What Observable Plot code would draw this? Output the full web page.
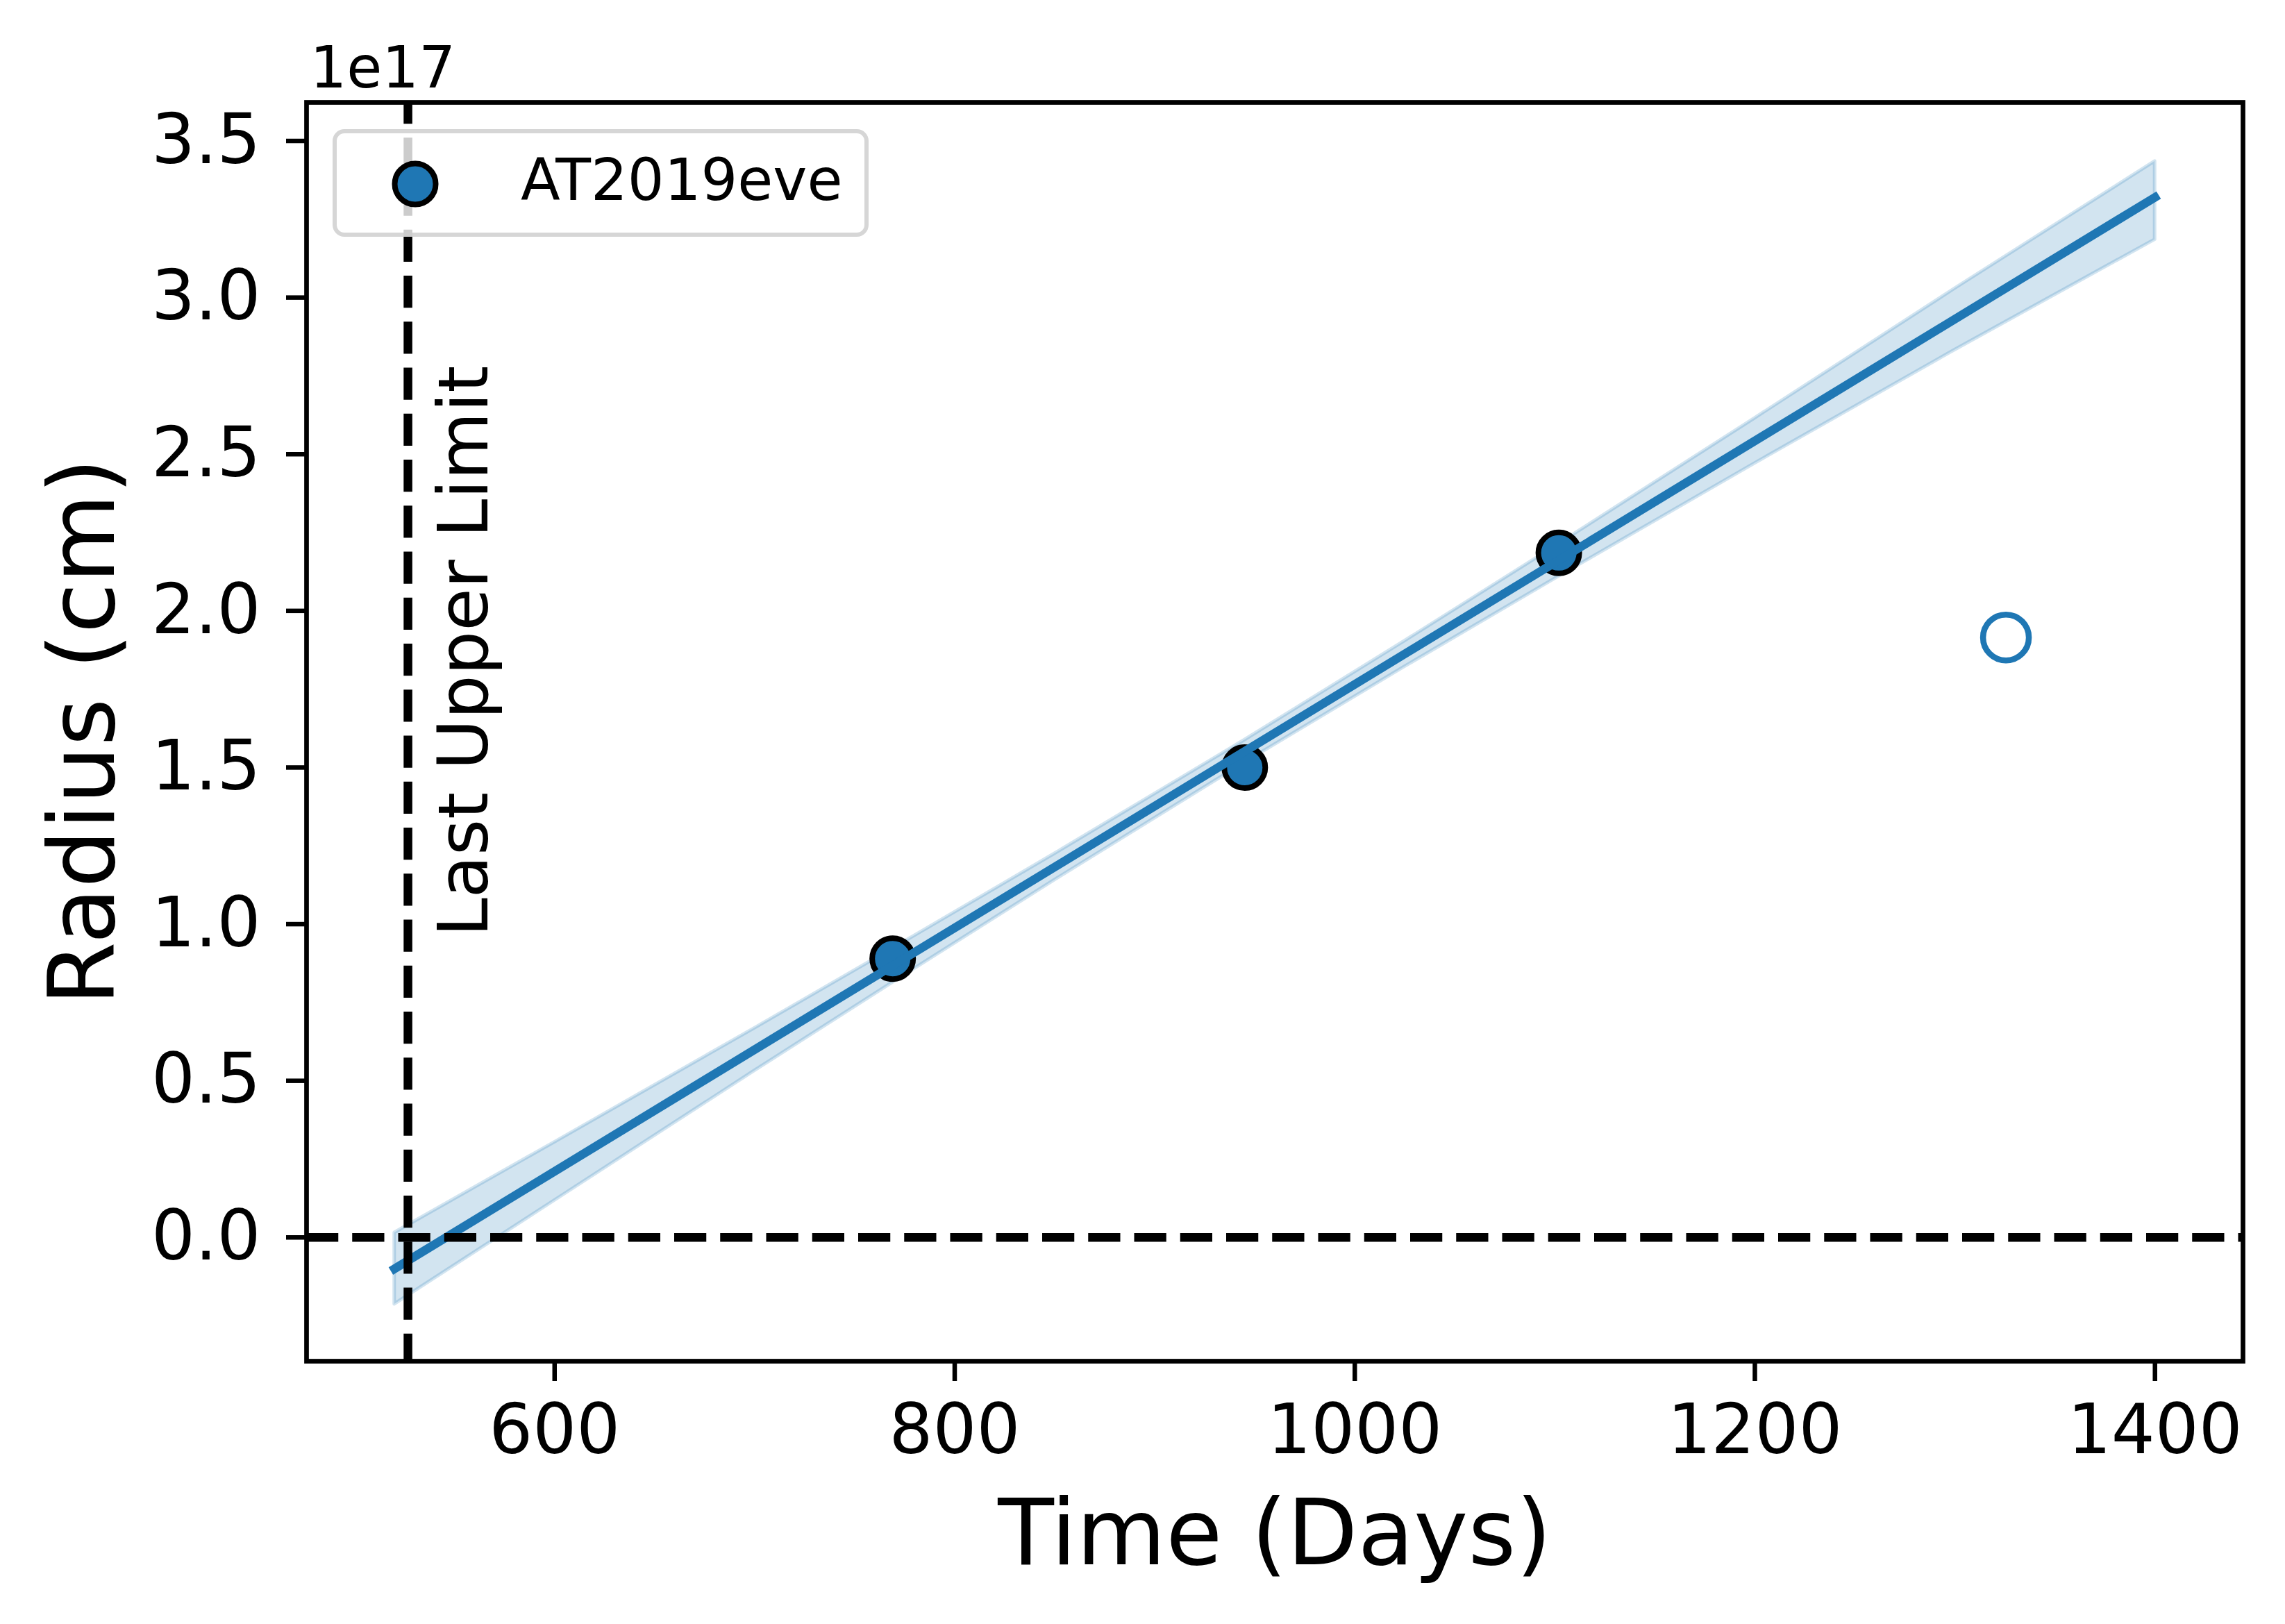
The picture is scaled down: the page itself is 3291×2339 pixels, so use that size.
<!DOCTYPE html>
<html><head><meta charset="utf-8">
<script src="https://cdn.jsdelivr.net/npm/d3@7"></script>
<script src="https://cdn.jsdelivr.net/npm/@observablehq/plot@0.6"></script>
<style>
html,body{margin:0;padding:0;background:#fff;}
#wrap{position:relative;width:3291px;height:2339px;font-family:"DejaVu Sans",sans-serif;}
#wrap svg{display:block;}
#legend{position:absolute;left:479px;top:186px;width:760px;height:143px;border:6px solid rgba(204,204,204,0.8);border-radius:17px;background:rgba(255,255,255,0.8);}
#legend svg{position:absolute;left:0;top:0;overflow:visible;}
</style></head><body><div id="wrap"></div>
<script>
// ---- data (radius in units of 1e17 cm, time in days) ----
const seriesName = "AT2019eve";
const obsDays = [769, 945, 1102];
const obsRadius = [0.89, 1.50, 2.185];
const excludedDays = [1325.5];
const excludedRadius = [1.915];
const fitDays = [520, 1400];
const fitRadius = [-0.10, 3.32];
const bandDays = [520, 600, 700, 770, 850, 945, 1025, 1102, 1200, 1300, 1400];
const bandLow  = [-0.213, 0.118, 0.532, 0.818, 1.141, 1.516, 1.822, 2.110, 2.471, 2.833, 3.185];
const bandHigh = [0.015, 0.304, 0.668, 0.926, 1.225, 1.588, 1.904, 2.214, 2.615, 3.029, 3.435];
const lastUpperLimit = 526.7;
const annotation = [{day: 566.4, radius: 0.96, text: "Last Upper Limit"}];
const xTicks = [600, 800, 1000, 1200, 1400];
const yTicks = [0, 0.5, 1.0, 1.5, 2.0, 2.5, 3.0, 3.5];
const xDomain = [476, 1444];
const yDomain = [-0.395, 3.623];
const offsetLabel = "1e17";
const xLabel = "Time (Days)";
const yLabel = "Radius (cm)";

const blue = "#1f77b4";
const obs = obsDays.map((d, i) => ({day: d, radius: obsRadius[i]}));
const excl = excludedDays.map((d, i) => ({day: d, radius: excludedRadius[i]}));
const fit = fitDays.map((d, i) => ({day: d, radius: fitRadius[i]}));
const band = bandDays.map((d, i) => ({day: d, low: bandLow[i], high: bandHigh[i]}));

const chart = Plot.plot({
  width: 3291, height: 2339,
  marginTop: 147, marginRight: 61, marginBottom: 379, marginLeft: 441,
  style: {fontFamily: "DejaVu Sans", background: "white", color: "black", overflow: "visible"},
  x: {domain: xDomain},
  y: {domain: yDomain},
  marks: [
    Plot.areaY(band, {x: "day", y1: "low", y2: "high", fill: blue, fillOpacity: 0.2,
      stroke: blue, strokeOpacity: 0.2, strokeWidth: 5}),
    Plot.dot(obs, {x: "day", y: "radius", r: 29.5, fill: blue, stroke: "black", strokeWidth: 8}),
    Plot.dot(excl, {x: "day", y: "radius", r: 33, fill: "none", stroke: blue, strokeWidth: 8.5}),
    Plot.line(fit, {x: "day", y: "radius", stroke: blue, strokeWidth: 12.5, strokeLinecap: "square"}),
    Plot.ruleY([0], {stroke: "black", strokeWidth: 12.5, strokeDasharray: "46.25,20", strokeLinecap: "butt"}),
    Plot.ruleX([lastUpperLimit], {stroke: "black", strokeWidth: 12.5, strokeDasharray: "46.25,20", strokeDashoffset: 15, strokeLinecap: "butt"}),
    Plot.text(annotation, {x: "day", y: "radius", text: "text", rotate: -90, textAnchor: "start",
      lineAnchor: "bottom", fontSize: 100, fill: "black"}),
    Plot.frame({stroke: "black", strokeWidth: 6.7}),
    Plot.axisX({ticks: xTicks, tickFormat: d3.format("d"), tickSize: 29, tickPadding: 33, fontSize: 99, strokeWidth: 6.5, label: null}),
    Plot.axisY({ticks: yTicks, tickFormat: d3.format(".1f"), tickSize: 29, tickPadding: 37, fontSize: 99, strokeWidth: 6.5, label: null}),
    Plot.text([offsetLabel], {frameAnchor: "top-left", textAnchor: "start", lineAnchor: "bottom", dx: 5, dy: -22, fontSize: 83, fill: "black"}),
    Plot.text([xLabel], {frameAnchor: "bottom", textAnchor: "middle", lineAnchor: "bottom", dy: 292, fontSize: 132, fill: "black"}),
    Plot.text([yLabel], {frameAnchor: "left", textAnchor: "middle", rotate: -90, lineAnchor: "bottom", dx: -278, fontSize: 132, fill: "black"})
  ]
});
const wrap = document.getElementById("wrap");
wrap.appendChild(chart);

// legend (matplotlib-style box in the upper-left corner of the axes)
const legend = document.createElement("div");
legend.id = "legend";
legend.innerHTML = `<svg width="760" height="143">
  <circle cx="113" cy="73" r="29.5" fill="${blue}" stroke="black" stroke-width="8"></circle>
  <text x="265" y="96" font-family="DejaVu Sans" font-size="83" fill="black">${seriesName}</text>
</svg>`;
wrap.appendChild(legend);
</script>
</body></html>
